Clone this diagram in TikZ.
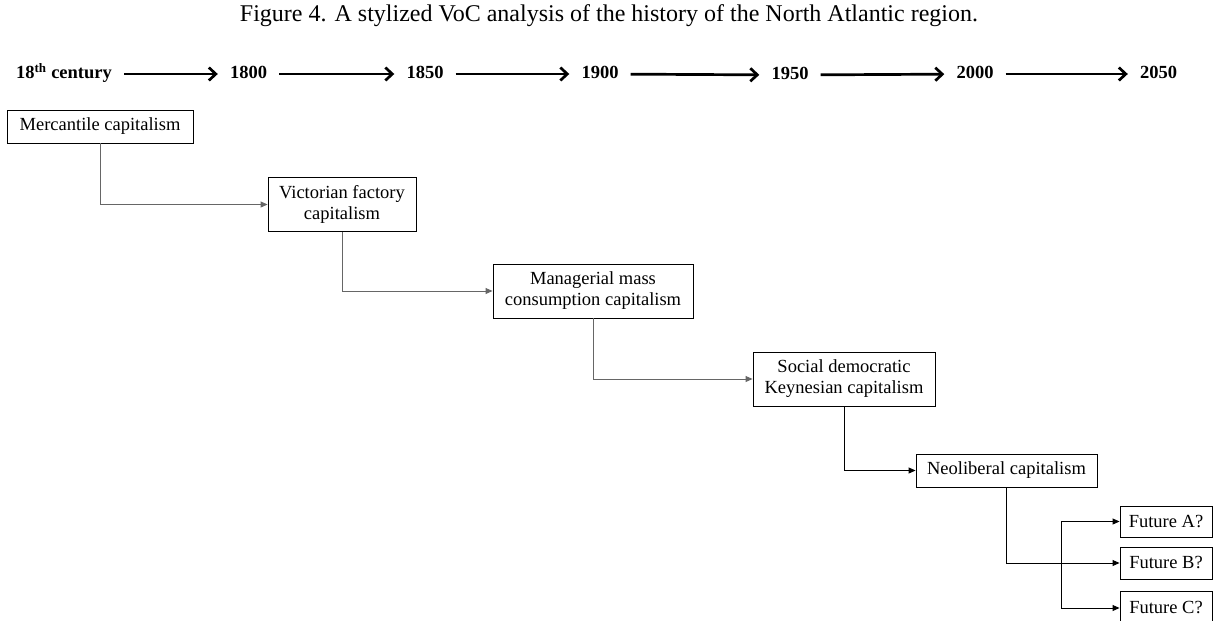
\documentclass[tikz,border=0pt]{standalone}
\usepackage{fontspec}
\setmainfont{Liberation Serif}
\usetikzlibrary{arrows.meta}
\tikzset{box/.style={draw, line width=0.9pt, align=center, inner sep=0pt,
   minimum height=33pt, font=\fontsize{18.5}{21}\selectfont},
 tall/.style={minimum height=54pt},
 year/.style={font=\bfseries\fontsize{18.5}{21}\selectfont, inner xsep=12pt,
   inner ysep=0pt, text height=13pt, text depth=4pt},
 timeline/.style={line width=2.7pt, -{Straight Barb[length=7pt,width=13pt]}},
 link/.style={draw=black!60, line width=0.9pt, -{Triangle[length=7pt,width=6pt]}},
 }

\begin{document}
\begin{tikzpicture}[x=1pt,y=-1pt]
        \useasboundingbox (0,0) rectangle (1219,621);
        \node (caption) at (609,16) {\fontsize{24}{28}\selectfont Figure 4. A stylized VoC analysis of the history of the North Atlantic region.};
        \node[year] (t0) at (64,74) {18\textsuperscript{th} century};
        \node[year] (t1) at (248.5,74) {1800};
        \node[year] (t2) at (425,74) {1850};
        \node[year] (t3) at (600,74) {1900};
        \node[year] (t4) at (790,75) {1950};
        \node[year] (t5) at (975,74) {2000};
        \node[year] (t6) at (1158.5,74) {2050};
        \draw [timeline] (t0) -- (t1);
        \draw [timeline] (t1) -- (t2);
        \draw [timeline] (t2) -- (t3);
        \draw [timeline] (t3) -- (t4);
        \draw [timeline] (t4) -- (t5);
        \draw [timeline] (t5) -- (t6);
        \node[box, minimum width=186pt] (merc) at (100,126.5) {Mercantile capitalism};
        \node[box, tall, minimum width=148pt] (vict) at (342,204.5) {Victorian factory\\capitalism};
        \node[box, tall, minimum width=200pt] (mana) at (593,291) {Managerial mass\\consumption capitalism};
        \node[box, tall, minimum width=182pt] (soc) at (844,379) {Social democratic\\Keynesian capitalism};
        \node[box, minimum width=181pt] (neo) at (1006.5,470.5) {Neoliberal capitalism};
        \node[box, minimum width=92pt, minimum height=31pt] (futA) at (1166,521.5) {Future A?};
        \node[box, minimum width=92pt, minimum height=32pt] (futB) at (1166,563) {Future B?};
        \node[box, minimum width=92pt, minimum height=33pt] (futC) at (1166,608) {Future C?};
        \coordinate (fork) at (1061,563);
        \draw [link] (merc.south) |- (vict.west);
        \draw [link] (vict.south) |- (mana.west);
        \draw [link] (mana.south) |- (soc.west);
        \draw [link, draw=black] (soc.south) |- (neo.west);
        \draw [link, draw=black] (neo.south) |- (futB.west);
        \draw [link, draw=black] (fork) |- (futA.west);
        \draw [link, draw=black] (fork) |- (futC.west);
    \end{tikzpicture}
\end{document}
